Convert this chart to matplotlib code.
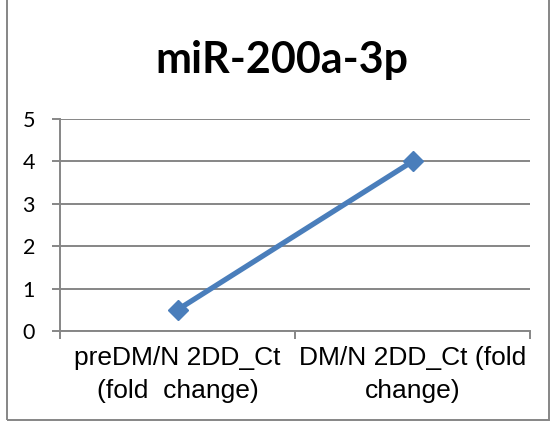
import matplotlib
matplotlib.use("Agg")
import matplotlib.pyplot as plt
from matplotlib.patches import Rectangle

categorias = ["preDM/N 2DD_Ct\n(fold  change)", "DM/N 2DD_Ct (fold\nchange)"]
valores = [0.5, 4.0]
titulo = "miR-200a-3p"

cinza = "#868686"
azul = "#4A7EBB"

fig = plt.figure(figsize=(5.56, 4.26), dpi=100)
ax = fig.add_axes([60 / 556, 1 - 331 / 426, 470 / 556, 212 / 426])

x = list(range(len(categorias)))
ax.plot(x, valores, color=azul, lw=3.8, marker="D", markersize=10,
        solid_capstyle="round", zorder=3, clip_on=False)

ax.set_xlim(-0.5, len(categorias) - 0.5)
ax.set_ylim(0, 5)
ax.set_yticks(range(6))
ax.yaxis.grid(True, color=cinza, lw=1.4)
ax.set_axisbelow(True)

ax.set_xticks([i - 0.5 for i in range(len(categorias) + 1)])
ax.set_xticklabels([])
ax.set_xticks(x, minor=True)
ax.set_xticklabels(categorias, minor=True, fontfamily="Liberation Sans",
                   fontsize=19, linespacing=1.45)
ax.tick_params(axis="x", which="minor", length=0, pad=11)
ax.tick_params(axis="x", which="major", length=6, width=1.4, color=cinza)
ax.tick_params(axis="y", length=6, width=1.4, color=cinza, pad=12,
               labelsize=15.5)
for lbl in ax.get_yticklabels():
    lbl.set_fontfamily("Lato")

for lado in ["top", "right"]:
    ax.spines[lado].set_visible(False)
for lado in ["left", "bottom"]:
    ax.spines[lado].set_color(cinza)
    ax.spines[lado].set_linewidth(1.4)

fig.text(282 / 556, 1 - 60 / 426, titulo, ha="center", va="center",
         fontfamily="Lato", fontweight="bold", fontsize=31)

fig.patches.append(Rectangle((7 / 556, 6 / 426), 542 / 556, 440 / 426,
                             transform=fig.transFigure, fill=False,
                             edgecolor=cinza, lw=1.4))

fig.savefig("out.png", dpi=100)
